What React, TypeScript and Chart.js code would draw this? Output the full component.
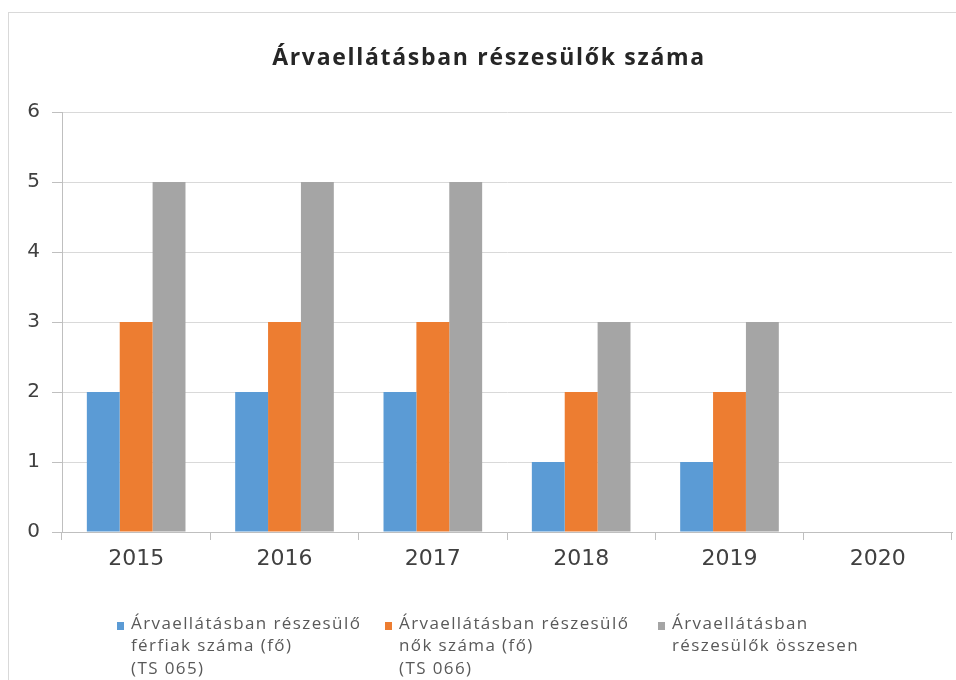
import React, { useEffect, useRef } from "react";
import { Chart, registerables } from "chart.js";

Chart.register(...registerables);

const categories = ["2015", "2016", "2017", "2018", "2019", "2020"];
const menValues = [2, 2, 2, 1, 1, 0];
const womenValues = [3, 3, 3, 2, 2, 0];
const totalValues = [5, 5, 5, 3, 3, 0];
const seriesNames = [
  ["Árvaellátásban részesülő", "férfiak száma (fő)", "(TS 065)"],
  ["Árvaellátásban részesülő", "nők száma (fő)", "(TS 066)"],
  ["Árvaellátásban", "részesülők összesen"],
];
const seriesColors = ["#5B9BD5", "#ED7D31", "#A5A5A5"];
const titleText = "Árvaellátásban részesülők száma";

const framePlugin = {
  id: "frame",
  beforeDraw(chart: any) {
    const { ctx, width, height } = chart;
    ctx.save();
    ctx.fillStyle = "#ffffff";
    ctx.fillRect(0, 0, width, height);
    ctx.strokeStyle = "#d9d9d9";
    ctx.lineWidth = 1;
    ctx.strokeRect(8.5, 12.5, width + 10, height + 10);
    ctx.restore();
  },
  afterDraw(chart: any) {
    const { ctx } = chart;
    ctx.save();
    // title
    ctx.fillStyle = "#262626";
    ctx.font = "bold 23px 'Open Sans'";
    (ctx as any).letterSpacing = "1.7px";
    ctx.textAlign = "center";
    ctx.textBaseline = "alphabetic";
    ctx.fillText(titleText, 489, 65);
    // legend
    const xs = [117, 385, 658];
    ctx.font = "17px 'Open Sans'";
    (ctx as any).letterSpacing = "1.4px";
    ctx.textAlign = "left";
    ctx.textBaseline = "middle";
    chart.data.datasets.forEach((ds: any, i: number) => {
      ctx.fillStyle = ds.backgroundColor;
      ctx.fillRect(xs[i], 622, 7, 8);
      ctx.fillStyle = "#595959";
      (seriesNames[i] as string[]).forEach((line, j) => {
        ctx.fillText(line, xs[i] + 14, 624 + j * 22.5);
      });
    });
    ctx.restore();
  },
};

export default function App() {
  const ref = useRef<HTMLCanvasElement>(null);
  useEffect(() => {
    const chart = new Chart(ref.current!, {
      type: "bar",
      data: {
        labels: categories,
        datasets: [menValues, womenValues, totalValues].map((d, i) => ({
          label: seriesNames[i].join(" "),
          data: d,
          backgroundColor: seriesColors[i],
          borderWidth: 0,
          categoryPercentage: 0.665,
          barPercentage: 1,
        })),
      },
      options: {
        animation: false,
        responsive: false,
        layout: { padding: { left: 0, top: 112, right: 4, bottom: 0 } },
        plugins: { legend: { display: false }, title: { display: false }, tooltip: { enabled: false } },
        scales: {
          x: {
            afterFit: (s: any) => { s.height = 148; },
            grid: { drawOnChartArea: false, drawTicks: true, tickLength: 8, tickColor: "#bfbfbf", offset: true },
            border: { color: "#bfbfbf" },
            ticks: { color: "#404040", font: { family: "DejaVu Sans", size: 22 }, padding: 6 },
          },
          y: {
            min: 0,
            max: 6,
            afterFit: (s: any) => { s.width = 62; },
            grid: { color: "#d9d9d9", tickLength: 10, tickColor: "#bfbfbf" },
            border: { color: "#bfbfbf" },
            ticks: { stepSize: 1, color: "#404040", font: { family: "DejaVu Sans", size: 20 }, padding: 12 },
          },
        },
      },
      plugins: [framePlugin],
    });
    return () => chart.destroy();
  }, []);
  return (
    <div style={{ position: "fixed", left: 0, top: 0, width: 956, height: 680 }}>
      <canvas ref={ref} width={956} height={680} />
    </div>
  );
}
